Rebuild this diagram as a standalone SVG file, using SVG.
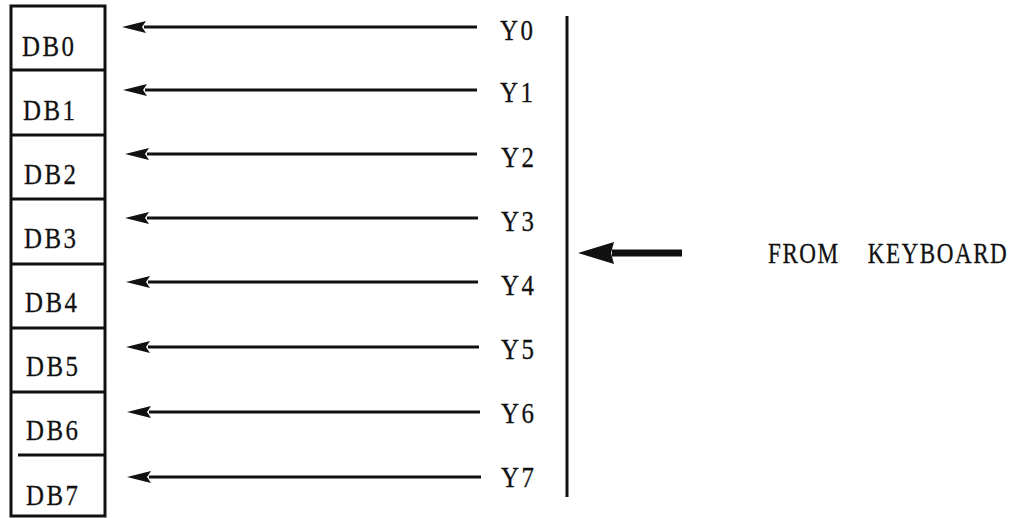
<svg xmlns="http://www.w3.org/2000/svg" width="1016" height="518" viewBox="0 0 1016 518">
<defs>
<style>
.t{font-family:"Liberation Serif","Times New Roman",serif;font-size:30px;fill:#111;stroke:#111;stroke-width:0.3;letter-spacing:3px}
.k{letter-spacing:2px}
.box{fill:none;stroke:#111;stroke-width:3}
.ln{stroke:#111;stroke-width:3;fill:none}
</style>
<marker id="ah" markerWidth="24" markerHeight="12" refX="2" refY="6" orient="auto" markerUnits="userSpaceOnUse">
<path d="M24,6 L0,0 L4,6 L0,12 Z" fill="#111"/>
</marker>
<marker id="bh" markerWidth="36" markerHeight="22" refX="2" refY="11" orient="auto" markerUnits="userSpaceOnUse">
<path d="M36,11 L0,0 L3,11 L0,22 Z" fill="#111"/>
</marker>
</defs>
<g id="register">
<rect class="box" x="11" y="6" width="94" height="510"/>
<line class="ln" x1="11" y1="70" x2="105" y2="70"/>
<line class="ln" x1="11" y1="135" x2="105" y2="135"/>
<line class="ln" x1="11" y1="199" x2="105" y2="199"/>
<line class="ln" x1="11" y1="264" x2="105" y2="264"/>
<line class="ln" x1="11" y1="328" x2="105" y2="328"/>
<line class="ln" x1="11" y1="392" x2="105" y2="392"/>
<line class="ln" x1="18" y1="455" x2="105" y2="455"/>
</g>
<g id="db0"><text class="t" transform="translate(22,56) scale(0.83,1)">DB0</text></g>
<g id="db1"><text class="t" transform="translate(23,120) scale(0.83,1)">DB1</text></g>
<g id="db2"><text class="t" transform="translate(24,184) scale(0.83,1)">DB2</text></g>
<g id="db3"><text class="t" transform="translate(24,248) scale(0.83,1)">DB3</text></g>
<g id="db4"><text class="t" transform="translate(25,312) scale(0.83,1)">DB4</text></g>
<g id="db5"><text class="t" transform="translate(26,376) scale(0.83,1)">DB5</text></g>
<g id="db6"><text class="t" transform="translate(26,440) scale(0.83,1)">DB6</text></g>
<g id="db7"><text class="t" transform="translate(26,505) scale(0.83,1)">DB7</text></g>
<g id="y0"><text class="t" transform="translate(500,40) scale(0.83,1)">Y0</text></g>
<g id="y1"><text class="t" transform="translate(500,102) scale(0.83,1)">Y1</text></g>
<g id="y2"><text class="t" transform="translate(501,167) scale(0.83,1)">Y2</text></g>
<g id="y3"><text class="t" transform="translate(501,231) scale(0.83,1)">Y3</text></g>
<g id="y4"><text class="t" transform="translate(501,295) scale(0.83,1)">Y4</text></g>
<g id="y5"><text class="t" transform="translate(501,359) scale(0.83,1)">Y5</text></g>
<g id="y6"><text class="t" transform="translate(501,423) scale(0.83,1)">Y6</text></g>
<g id="y7"><text class="t" transform="translate(501,487) scale(0.83,1)">Y7</text></g>
<g id="bus"><line x1="567" y1="16" x2="567" y2="497" stroke="#111" stroke-width="3"/></g>
<g id="keyboard"><text class="t k" transform="translate(768,263) scale(0.77,1)">FROM <tspan dx="27">KEYBOARD</tspan></text></g>
<g id="connectors">
<line class="ln" x1="477" y1="27" x2="144" y2="27" marker-end="url(#ah)"/>
<line class="ln" x1="477" y1="90" x2="145" y2="90" marker-end="url(#ah)"/>
<line class="ln" x1="477" y1="154" x2="147" y2="154" marker-end="url(#ah)"/>
<line class="ln" x1="478" y1="218" x2="147" y2="218" marker-end="url(#ah)"/>
<line class="ln" x1="478" y1="282" x2="148" y2="282" marker-end="url(#ah)"/>
<line class="ln" x1="479" y1="347" x2="148" y2="347" marker-end="url(#ah)"/>
<line class="ln" x1="480" y1="412" x2="149" y2="412" marker-end="url(#ah)"/>
<line class="ln" x1="481" y1="477" x2="149" y2="477" marker-end="url(#ah)"/>
<line x1="682" y1="253" x2="612" y2="253" stroke="#111" stroke-width="7" marker-end="url(#bh)"/>
</g>
</svg>
